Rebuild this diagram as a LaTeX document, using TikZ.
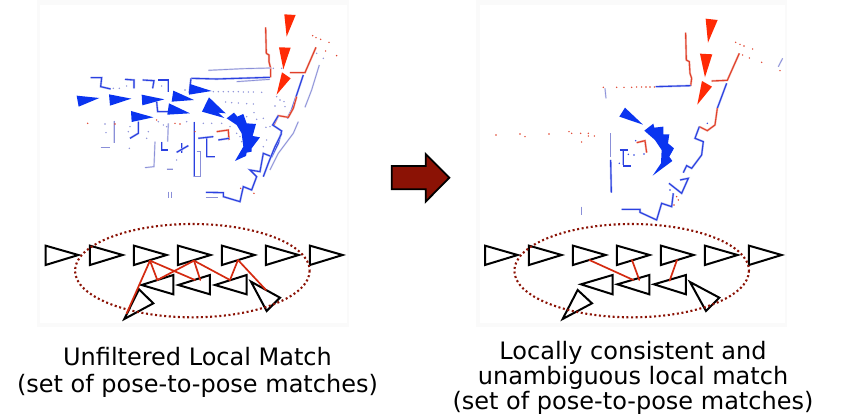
\documentclass[tikz,border=0pt]{standalone}
\usepackage{fontspec}
\setmainfont{DejaVu Sans}
\definecolor{mapblue}{HTML}{2A40E0}
\definecolor{mapgrey}{HTML}{8A8FD8}
\definecolor{mapred}{HTML}{E0402A}
\definecolor{poseblue}{HTML}{0A34F0}
\definecolor{posered}{HTML}{FF2A05}
\definecolor{linkred}{HTML}{D42A10}
\definecolor{dotred}{HTML}{8B1205}
\definecolor{panelgrey}{HTML}{FAFAFA}
\tikzset{
  posetri/.style={draw=black,line width=2pt,fill=none,line join=miter},
  matchline/.style={draw=linkred,line width=1.7pt,line cap=round},
  groupring/.style={draw=dotred,line width=2.1pt,dash pattern=on 2pt off 2.6pt},
  bluepose/.style={fill=poseblue,draw=none},
  redpose/.style={fill=posered,draw=none},
  mapb/.style={preaction={draw=mapblue!35,line width=2.1pt},draw=mapblue,line width=1.1pt},
  mapg/.style={preaction={draw=mapgrey!35,line width=1.6pt},draw=mapgrey,line width=0.7pt},
  mapr/.style={preaction={draw=mapred!35,line width=2.1pt},draw=mapred,line width=1.1pt},
  capt/.style={align=center,text=black,inner sep=0pt},
}
\newcommand{\mapdots}[2]{\foreach \p in {#2}{\fill[#1] \p circle (0.8pt);}}
\begin{document}
\begin{tikzpicture}[x=1pt,y=-1pt]
\useasboundingbox (0,0) rectangle (847,418);
% panels
\fill[panelgrey] (37,0) rectangle (349,327);
\fill[white] (40,5) rectangle (347,323);
\fill[panelgrey] (476,0) rectangle (787,327);
\fill[white] (480,5) rectangle (785,323);

% ---------- left map
\begin{scope}[shift={(30,0)},x=0.3333pt,y=-0.3333pt]
\draw[mapr] (707,82)--(709,160)--(717,165)--(717,185)--(722,205)--(722,232);
\draw[mapg] (535,211)--(640,206)--(722,204);
\draw[mapb] (483,235)--(560,237)--(720,232);
\draw[mapg] (620,245)--(720,238);
\draw[mapb] (483,235)--(478,280);
\draw[mapb] (820,225)--(795,300)--(785,330)--(772,355);
\draw[mapr] (780,218)--(825,218)--(858,142);
\draw[mapr] (800,290)--(790,325)--(775,352)--(745,347)--(730,378);
\draw[mapb] (745,347)--(728,375)--(755,393)--(745,430)--(725,470)--(700,460)--(690,515)--(660,510)--(680,530)--(665,570)--(640,560)--(630,605)--(580,590)--(580,578)--(528,577);
\draw[mapb] (755,400)--(735,440)--(715,490)--(700,530);
\draw[mapg] (868,195)--(845,270)--(825,322);
\draw[mapg] (805,365)--(790,400)--(745,460)--(720,510);
\draw[mapg] (528,592)--(565,592);
\draw[mapb] (182,233)--(215,233)--(212,260)--(242,267);
\draw[mapb] (285,238)--(312,240)--(312,265);
\draw[mapb] (338,240)--(372,242)--(368,265);
\draw[mapb] (385,240)--(415,240)--(415,275);
\draw[mapb] (380,305)--(383,335)--(415,335);
\draw[mapg] (252,362)--(252,430);
\draw[mapg] (212,442)--(240,442);
\draw[mapb] (325,365)--(325,400)--(300,415);
\draw[mapg] (375,425)--(372,500)--(345,503);
\draw[mapg] (410,507)--(428,507);
\draw[mapb] (395,425)--(395,450)--(415,450);
\draw[mapg] (415,370)--(413,425);
\draw[mapb] (455,430)--(455,458);
\draw[mapb] (440,457)--(475,437);
\draw[mapb] (493,365)--(493,530);
\draw[mapg] (500,455)--(512,455)--(512,530)--(493,530);
\draw[mapb] (530,410)--(530,470)--(555,470);
\draw[mapb] (505,415)--(550,410);
\draw[mapr] (560,395)--(595,390)--(597,420);
\draw[mapb] (565,420)--(597,415);
\draw[mapg] (415,575)--(415,595);
\draw[mapg] (425,575)--(425,595);
\mapdots{mapgrey}{(550,275),(565,275),(580,275),(595,275),(610,275),(625,275),(640,276),(655,276),(670,276),(695,277),(587,306),(605,308),(625,309),(650,311),(670,312),(730,205),(755,205),(672,338),(650,350),(700,355),(720,380),(708,382),(680,358),(740,290),(750,300),(762,305),(765,320),(735,318),(385,365),(400,375),(410,380),(300,380),(295,395),(350,415),(355,395),(225,372),(228,398),(298,445),(440,480),(470,365),(520,370),(545,370),(575,370),(620,400),(630,410),(635,425),(600,380),(465,270),(395,258),(290,258),(250,265),(268,265),(700,440),(710,420),(860,160),(880,175)}
\mapdots{mapred}{(848,107),(858,113),(872,118),(897,127),(887,153),(920,167),(173,370),(255,372),(380,360),(435,370),(450,372),(495,395),(672,580),(632,565)}

\path[bluepose] (140,287)--(208,294)--(146,320)--cycle;
\path[bluepose] (237,283)--(304,296)--(240,317)--cycle;
\path[bluepose] (335,284)--(403,298)--(337,316)--cycle;
\path[bluepose] (430,272)--(492,300)--(425,305)--cycle;
\path[bluepose] (417,310)--(480,340)--(412,344)--cycle;
\path[bluepose] (303,333)--(370,352)--(305,366)--cycle;
\path[bluepose] (480,252)--(545,273)--(477,284)--cycle;
\path[bluepose] (537,292)--(587,340)--(565,338)--(583,354)--(516,335)--cycle;
\path[bluepose] (590,355)--(612,338)--(622,350)--(640,342)--(650,370)--(678,372)--(668,408)--(690,412)--(665,445)--(665,455)--(650,458)--(648,468)--(615,483)--(640,440)--(635,400)--(620,375)--cycle;
\path[redpose] (763,43)--(797,45)--(770,110)--cycle;
\path[redpose] (747,142)--(782,143)--(760,208)--cycle;
\path[redpose] (756,217)--(782,235)--(740,284)--cycle;
\end{scope}

% ---------- right map
\begin{scope}[shift={(470,0)},x=0.3333pt,y=-0.3333pt]
\draw[mapr] (647,98)--(649,180)--(658,185)--(660,220)--(665,235)--(662,258);
\draw[mapb] (557,260)--(662,257);
\draw[mapr] (725,243)--(772,241)--(808,160);
\draw[mapb] (770,250)--(742,325);
\draw[mapr] (742,325)--(735,375)--(712,392)--(688,380);
\draw[mapb] (688,380)--(675,415)--(700,425)--(695,465)--(665,505)--(650,497)--(640,518);
\draw[mapb] (630,540)--(655,535)--(635,580)--(597,550);
\draw[mapb] (610,580)--(605,620)--(575,610)--(560,660)--(510,637)--(510,628)--(455,628);
\draw[mapg] (422,400)--(422,470);
\draw[mapb] (422,480)--(424,578);
\draw[mapg] (335,620)--(335,645);
\draw[mapb] (460,450)--(460,495);
\draw[mapb] (450,450)--(475,450);
\draw[mapb] (460,498)--(482,498);
\draw[mapr] (500,428)--(525,422)--(530,458);
\draw[mapg] (938,175)--(925,200);
\draw[mapg] (405,265)--(408,295);
\mapdots{mapred}{(797,127),(810,133),(822,138),(848,147),(838,174),(875,187),(818,165),(930,212),(78,405),(150,402),(165,410),(237,402),(297,395),(305,400),(332,400),(355,400),(355,408),(373,408),(335,426),(400,262),(440,262),(462,262),(485,262),(500,261),(515,261),(528,261),(540,261),(553,261),(625,600),(612,615),(620,590)}
\mapdots{mapblue}{(712,370),(497,422),(475,463),(492,465),(522,462),(448,490),(600,570)}

\path[bluepose] (465,323)--(519,374)--(448,350)--cycle;
\path[bluepose] (523,392)--(550,371)--(553,383)--(580,380)--(580,403)--(598,403)--(594,430)--(612,445)--(598,470)--(607,483)--(548,527)--(573,490)--(575,450)--(555,420)--cycle;
\path[redpose] (707,56)--(743,60)--(714,128)--cycle;
\path[redpose] (690,161)--(727,163)--(705,232)--cycle;
\path[redpose] (696,243)--(726,260)--(682,314)--cycle;
\end{scope}

% ---------- left poses
\begin{scope}[shift={(30,210)},x=0.3333pt,y=-0.3333pt]
\foreach \tx in {47,180,312,444,576,708,840}{
  \draw[posetri] (\tx,107)--(\tx,165)--(\tx+98,135)--cycle;
}
\draw[posetri] (335,225)--(430,195)--(430,253)--cycle;
\draw[posetri] (445,225)--(540,195)--(540,253)--cycle;
\draw[posetri] (555,225)--(650,195)--(650,253)--cycle;
\draw[posetri] (283,327)--(327,238)--(370,280)--cycle;
\draw[posetri] (663,215)--(750,263)--(710,303)--cycle;
\draw[groupring] (487,182) ellipse [x radius=352,y radius=140];
\coordinate (a1) at (360,152);
\coordinate (a2) at (492,152);
\coordinate (a3) at (624,150);
\coordinate (b1) at (382,210);
\coordinate (b2) at (511,210);
\coordinate (b3) at (600,210);
\coordinate (b4) at (708,240);
\coordinate (b5) at (290,310);
\coordinate (b6) at (495,210);
\draw[matchline] (a1)--(b5);
\draw[matchline] (a1)--(b1);
\draw[matchline] (a1)--(b6);
\draw[matchline] (a2)--(b1);
\draw[matchline] (a2)--(b2);
\draw[matchline] (a2)--(b3);
\draw[matchline] (a3)--(b3);
\draw[matchline] (a3)--(b4);
\end{scope}

% ---------- right poses
\begin{scope}[shift={(470,220)},x=0.3333pt,y=-0.3333pt]
\foreach \tx in {45,177,309,441,573,705,837}{
  \draw[posetri] (\tx,77)--(\tx,135)--(\tx+98,105)--cycle;
}
\draw[posetri] (333,193)--(428,165)--(428,223)--cycle;
\draw[posetri] (442,193)--(538,165)--(538,223)--cycle;
\draw[posetri] (552,193)--(648,165)--(648,223)--cycle;
\draw[posetri] (278,297)--(323,210)--(366,250)--cycle;
\draw[posetri] (660,186)--(748,233)--(708,273)--cycle;
\draw[groupring] (485,152) ellipse [x radius=352,y radius=140];
\coordinate (c1) at (358,120);
\coordinate (c2) at (486,120);
\coordinate (c3) at (621,120);
\coordinate (d1) at (490,180);
\coordinate (d2) at (508,180);
\coordinate (d3) at (599,182);
\draw[matchline] (c1)--(d1);
\draw[matchline] (c2)--(d2);
\draw[matchline] (c3)--(d3);
\end{scope}

% ---------- arrow
\begin{scope}[shift={(380,140)},x=0.3333pt,y=-0.3333pt]
\draw[fill=dotred,draw=black,line width=1.8pt,miter limit=4]
  (35,78)--(137,78)--(137,42)--(208,113)--(137,185)--(137,148)--(35,148)--cycle;
\end{scope}

% ---------- captions
\node[capt,font=\fontsize{24pt}{27pt}\selectfont] (capL) at (197.5,372) {Unfiltered Local Match\\(set of pose-to-pose matches)};
\node[capt,font=\fontsize{24pt}{25pt}\selectfont] (capR) at (633,378) {Locally consistent and\\unambiguous local match\\(set of pose-to-pose matches)};
\end{tikzpicture}
\end{document}
